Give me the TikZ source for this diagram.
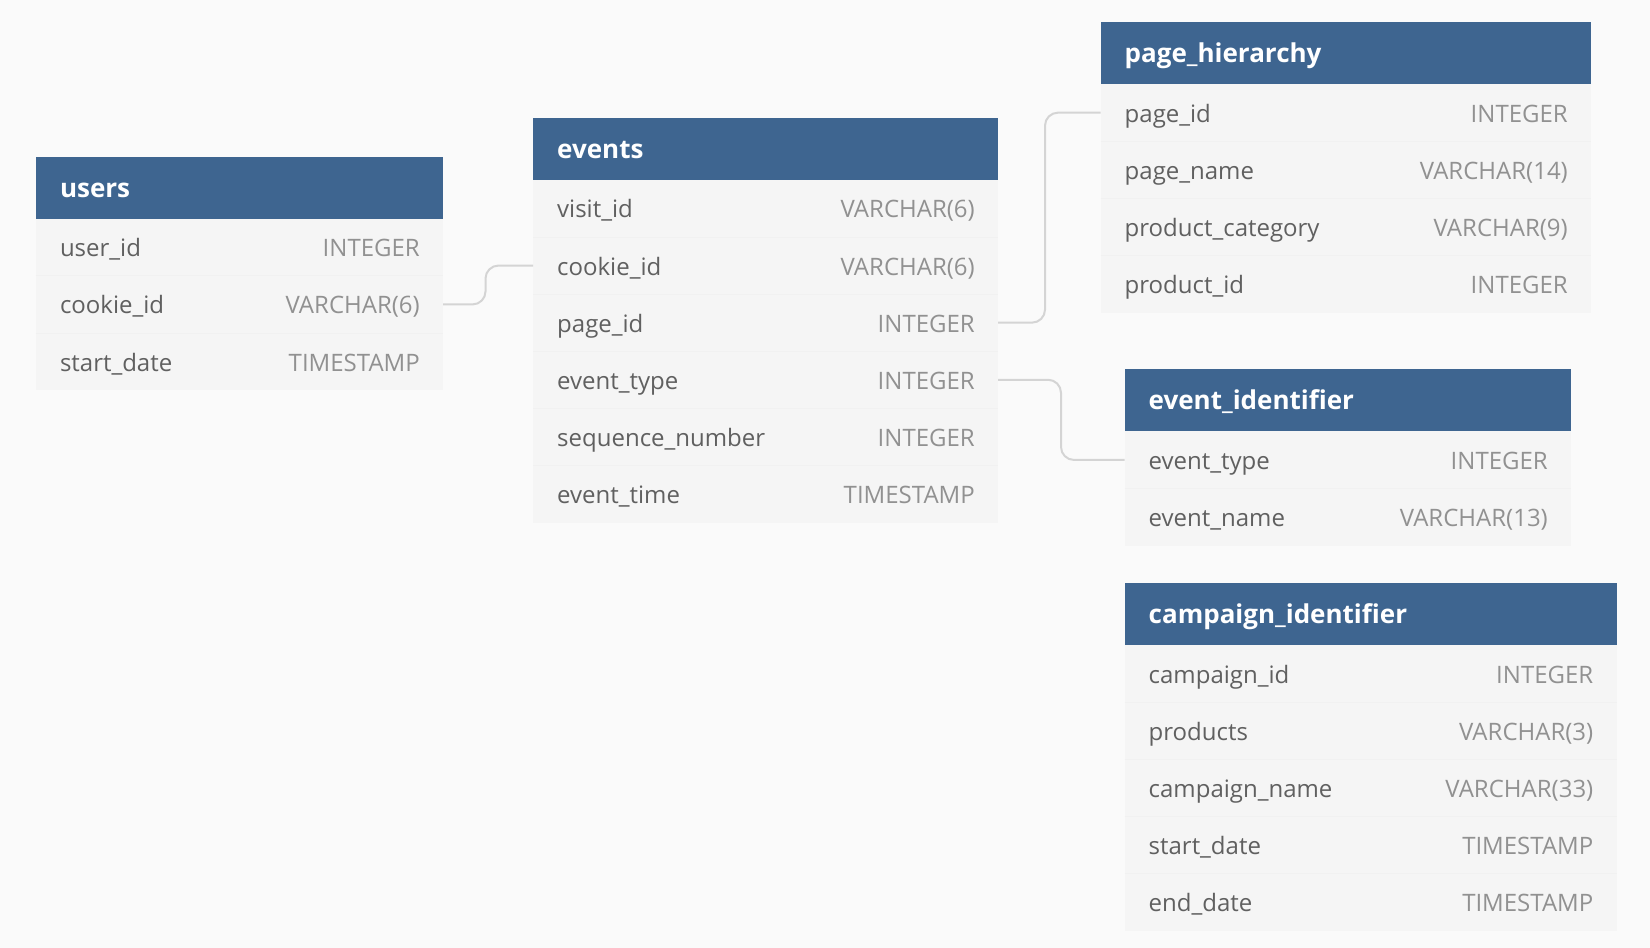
\documentclass[tikz,border=0pt]{standalone}
\usepackage{fontspec}
\setmainfont{Open Sans}
\usetikzlibrary{calc}
\definecolor{bgc}{HTML}{FAFAFA}
\definecolor{hdrc}{HTML}{3E6590}
\definecolor{bodyc}{HTML}{F5F5F5}
\definecolor{sepc}{HTML}{F1F1F1}
\definecolor{fieldc}{HTML}{606060}
\definecolor{typec}{HTML}{919191}
\definecolor{linkc}{HTML}{D4D4D4}
\tikzset{
  hdrbox/.style={fill=hdrc, draw=none, inner sep=0pt, outer sep=0pt, anchor=north west, minimum height=62pt},
  rowbox/.style={fill=bodyc, draw=none, inner sep=0pt, outer sep=0pt, anchor=north west, minimum height=57.1pt},
  sepline/.style={draw=sepc, line width=1pt},
  titletext/.style={text=white, font=\fontsize{26}{30}\selectfont\bfseries, inner sep=0pt, anchor=base west},
  fieldtext/.style={text=fieldc, font=\fontsize{24}{28}\selectfont, inner sep=0pt, anchor=base west},
  typetext/.style={text=typec, font=\fontsize{24}{28}\selectfont, inner sep=0pt, anchor=base east},
  link/.style={draw=linkc, line width=2pt, rounded corners=13pt},
}
% #1 name, #2 left x, #3 width, #4 top y, #5 title, #6 rows field/type
\newcommand\erdTable[6]{%
  \node[hdrbox, minimum width=#3pt] (#1) at (#2,#4) {};
  \node[titletext] (#1-title) at ([xshift=24pt,yshift=-9.5pt]#1.west) {#5};
  \foreach [count=\i] \f/\t in {#6} {%
    \pgfmathsetmacro\ry{#4+62+57.1*(\i-1)}
    \node[rowbox, minimum width=#3pt] (#1-\i) at (#2,\ry) {};
    \ifnum\i>1
      \draw[sepline] (#1-\i.north west) -- (#1-\i.north east);
    \fi
    \node[fieldtext] (#1-\i-f) at ([xshift=24pt,yshift=-9.5pt]#1-\i.west) {\f};
    \node[typetext] (#1-\i-t) at ([xshift=-23pt,yshift=-9.5pt]#1-\i.east) {\t};
  }%
}
\begin{document}
\begin{tikzpicture}[x=1pt,y=-1pt]
  \fill[bgc] (0,0) rectangle (1650,948);
  \useasboundingbox (0,0) rectangle (1650,948);

  \erdTable{users}{35.8}{407.2}{156.8}{users}{%
    user\_id/INTEGER,
    cookie\_id/VARCHAR(6),
    start\_date/TIMESTAMP}
  \erdTable{events}{533}{465}{117.9}{events}{%
    visit\_id/VARCHAR(6),
    cookie\_id/VARCHAR(6),
    page\_id/INTEGER,
    event\_type/INTEGER,
    sequence\_number/INTEGER,
    event\_time/TIMESTAMP}
  \erdTable{page}{1100.5}{490.5}{22.1}{page\_hierarchy}{%
    page\_id/INTEGER,
    page\_name/VARCHAR(14),
    product\_category/VARCHAR(9),
    product\_id/INTEGER}
  \erdTable{eventid}{1124.5}{446.5}{369.4}{event\_identifier}{%
    event\_type/INTEGER,
    event\_name/VARCHAR(13)}
  \erdTable{campaign}{1124.5}{492}{583}{campaign\_identifier}{%
    campaign\_id/INTEGER,
    products/VARCHAR(3),
    campaign\_name/VARCHAR(33),
    start\_date/TIMESTAMP,
    end\_date/TIMESTAMP}

  \draw[link] (users-2.east) -- ++(42.5,0) |- (events-2.west);
  \draw[link] (events-3.east) -- ++(47,0) |- (page-1.west);
  \draw[link] (events-4.east) -- ++(63,0) |- (eventid-1.west);
\end{tikzpicture}
\end{document}
